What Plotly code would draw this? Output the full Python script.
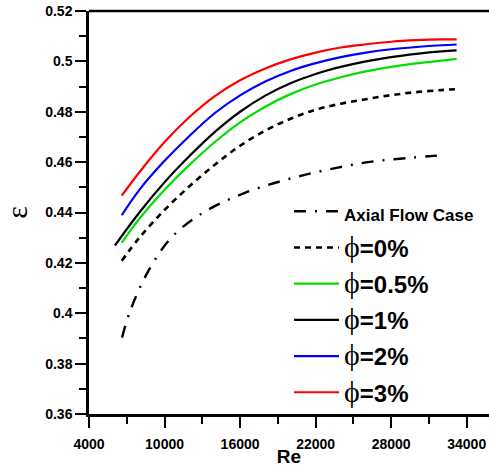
import plotly.graph_objects as go

# Effectiveness vs Reynolds number for the nanofluid cases
re_grid = [6600, 8000, 10000, 12000, 14000, 16000, 18000, 20000,
           22000, 24000, 26000, 28000, 30000, 32000, 33200]
re_black = [6060, 8000, 10000, 12000, 14000, 16000, 18000, 20000,
            22000, 24000, 26000, 28000, 30000, 32000, 33200]

eps_phi0 = [0.4208, 0.4300, 0.4410, 0.4505, 0.4590, 0.4665, 0.4725, 0.4772,
            0.4808, 0.4832, 0.4850, 0.4866, 0.4878, 0.4886, 0.4890]
eps_phi05 = [0.4280, 0.4375, 0.4490, 0.4590, 0.4680, 0.4758, 0.4820, 0.4870,
             0.4908, 0.4937, 0.4960, 0.4978, 0.4992, 0.5003, 0.5010]
eps_phi1 = [0.4269, 0.4400, 0.4520, 0.4625, 0.4720, 0.4800, 0.4864, 0.4913,
            0.4950, 0.4978, 0.5000, 0.5017, 0.5030, 0.5040, 0.5044]
eps_phi2 = [0.4389, 0.4490, 0.4605, 0.4705, 0.4795, 0.4865, 0.4920, 0.4962,
            0.4993, 0.5017, 0.5035, 0.5048, 0.5057, 0.5064, 0.5067]
eps_phi3 = [0.4467, 0.4560, 0.4680, 0.4780, 0.4862, 0.4925, 0.4972, 0.5008,
            0.5035, 0.5055, 0.5068, 0.5078, 0.5084, 0.5087, 0.5087]

re_axial = [6620, 7254, 8651, 10587, 13287, 16381, 19635, 22968, 26327, 29716, 32000]
eps_axial = [0.3903, 0.4007, 0.4162, 0.4303, 0.4406, 0.4478, 0.4530, 0.4570,
             0.4601, 0.4618, 0.4627]

x_ticks = [4000, 10000, 16000, 22000, 28000, 34000]
y_ticks = [0.36, 0.38, 0.4, 0.42, 0.44, 0.46, 0.48, 0.5, 0.52]
y_tick_text = ["0.36", "0.38", "0.4", "0.42", "0.44", "0.46", "0.48", "0.5", "0.52"]


def phi_label(txt):
    return ('<span style="font-family:\'Liberation Serif\';font-size:30px">ϕ</span>'
            '<b>=' + txt + '</b>')


series = [
    (re_axial, eps_axial, '<span style="font-size:17px"><b>Axial Flow Case</b></span>',
     "black", "12px,9px,2px,9px", 2.4),
    (re_grid, eps_phi0, phi_label("0%"), "black", "6px,5px", 2.6),
    (re_grid, eps_phi05, phi_label("0.5%"), "#00e000", "solid", 2.2),
    (re_black, eps_phi1, phi_label("1%"), "black", "solid", 2.2),
    (re_grid, eps_phi2, phi_label("2%"), "#0000ff", "solid", 2.2),
    (re_grid, eps_phi3, phi_label("3%"), "#ff0000", "solid", 2.2),
]

fig = go.Figure()
for i, (xs, ys, name, color, dash, width) in enumerate(series):
    fig.add_trace(go.Scatter(
        x=xs, y=ys, mode="lines", name=name, legendgroup="g%d" % i,
        line=dict(color=color, dash=dash, width=width, shape="spline"),
    ))

axis_font = dict(family="Liberation Sans, Arial", size=14, color="black")

fig.update_layout(
    width=489, height=467,
    margin=dict(l=89, r=0, t=11, b=53),
    paper_bgcolor="white", plot_bgcolor="white",
    showlegend=True,
    legend=dict(
        x=0.5, y=0.558, xanchor="left", yanchor="top",
        bgcolor="rgba(0,0,0,0)",
        font=dict(family="Liberation Sans, Arial", size=24, color="black"),
        tracegroupgap=2, itemwidth=45,
    ),
    xaxis=dict(
        range=[4000, 35770], tickmode="array", tickvals=x_ticks,
        ticktext=["<b>%d</b>" % v for v in x_ticks],
        ticks="outside", ticklen=11, tickwidth=2, tickcolor="black",
        showline=True, linewidth=2.5, linecolor="black",
        showgrid=False, zeroline=False, tickfont=axis_font,
        ticklabelstandoff=4,
        minor=dict(tickvals=[7000, 13000, 19000, 25000, 31000], ticks="outside",
                   ticklen=7, tickwidth=2, tickcolor="black", showgrid=False),
        title=dict(text="<b>Re</b>", font=dict(family="Liberation Sans, Arial", size=19,
                                                color="black"), standoff=0),
    ),
    yaxis=dict(
        range=[0.36, 0.52], tickmode="array", tickvals=y_ticks,
        ticktext=["<b>%s</b>" % t for t in y_tick_text],
        ticks="outside", ticklen=11, tickwidth=2, tickcolor="black",
        showline=True, linewidth=2.5, linecolor="black",
        showgrid=False, zeroline=False, tickfont=axis_font,
        minor=dict(tickvals=[0.37, 0.39, 0.41, 0.43, 0.45, 0.47, 0.49, 0.51],
                   ticks="outside", ticklen=7, tickwidth=2, tickcolor="black",
                   showgrid=False),
        title=dict(text="ε", font=dict(family="Liberation Serif", size=30, color="black"),
                   standoff=10),
    ),
    shapes=[dict(type="line", xref="paper", yref="paper", x0=0, x1=1, y0=1, y1=1,
                 line=dict(color="black", width=2.5))],
)

fig.write_html("out.html")
